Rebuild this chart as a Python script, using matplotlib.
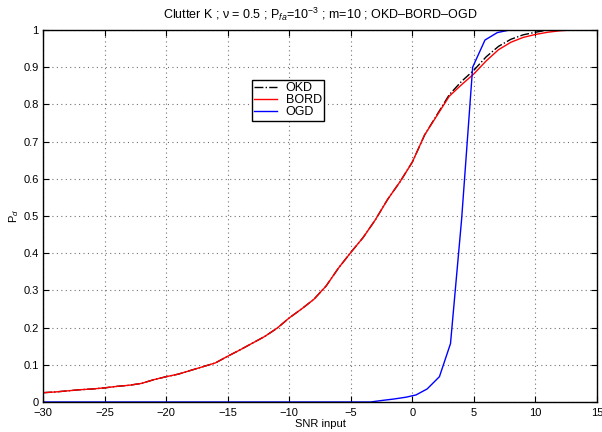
import matplotlib
matplotlib.use("Agg")
import matplotlib.pyplot as plt

plt.rcParams['font.family'] = ['Liberation Sans', 'DejaVu Sans']
plt.rcParams['mathtext.fontset'] = 'custom'
plt.rcParams['mathtext.rm'] = 'Liberation Sans'
plt.rcParams['mathtext.it'] = 'Liberation Sans:italic'

# SNR grid (dB) for OKD / BORD
snr = [-30, -29, -28, -27, -26, -25, -24, -23, -22, -21, -20, -19, -18, -17, -16,
       -15, -14, -13, -12, -11, -10, -9, -8, -7, -6, -5, -4, -3, -2, -1,
       0, 1, 2, 3, 4, 5, 6, 7, 8, 9, 10, 11, 12, 13, 14, 15]

pd_bord = [0.025, 0.027, 0.030, 0.033, 0.035, 0.038, 0.042, 0.045, 0.050, 0.060,
           0.068, 0.075, 0.085, 0.095, 0.105, 0.123, 0.140, 0.158, 0.176, 0.198,
           0.226, 0.250, 0.276, 0.312, 0.360, 0.402, 0.442, 0.490, 0.545, 0.592,
           0.645, 0.718, 0.770, 0.822, 0.853, 0.882, 0.917, 0.947, 0.967, 0.980,
           0.988, 0.994, 0.998, 1.0, 1.0, 1.0]

pd_okd = [0.025, 0.027, 0.030, 0.033, 0.035, 0.038, 0.042, 0.045, 0.050, 0.060,
          0.068, 0.075, 0.085, 0.095, 0.105, 0.123, 0.140, 0.158, 0.176, 0.198,
          0.226, 0.250, 0.276, 0.312, 0.360, 0.402, 0.442, 0.490, 0.545, 0.592,
          0.645, 0.718, 0.772, 0.826, 0.862, 0.892, 0.928, 0.956, 0.975, 0.987,
          0.994, 1.0, 1.0, 1.0, 1.0, 1.0]

# OGD is on its own SNR grid
snr_ogd = [-30, -3.4, -2.5, -1.5, -0.5, 0.3, 1.2, 2.2, 3.1, 4.0, 4.9, 5.9, 6.9, 7.9, 15]
pd_ogd = [0.0, 0.0, 0.004, 0.008, 0.013, 0.019, 0.035, 0.068, 0.157, 0.49, 0.90,
          0.973, 0.993, 1.0, 1.0]

fig = plt.figure(figsize=(6.02, 4.32), dpi=100)
ax = fig.add_axes([43 / 602, 30 / 432, 554 / 602, 372 / 432])

ax.plot(snr, pd_okd, '-.', color='black', lw=1.0, label='OKD')
ax.plot(snr, pd_bord, '-', color='red', lw=1.0, label='BORD')
ax.plot(snr_ogd, pd_ogd, '-', color='blue', lw=1.0, label='OGD')

ax.set_xlim(-30, 15)
ax.set_ylim(0, 1)
ax.set_xticks([-30, -25, -20, -15, -10, -5, 0, 5, 10, 15])
ax.set_yticks([0, 0.1, 0.2, 0.3, 0.4, 0.5, 0.6, 0.7, 0.8, 0.9, 1])
ax.set_yticklabels(['0', '0.1', '0.2', '0.3', '0.4', '0.5', '0.6', '0.7', '0.8', '0.9', '1'])
ax.set_xticklabels(['\u221230', '\u221225', '\u221220', '\u221215', '\u221210', '\u22125',
                    '0', '5', '10', '15'])
ax.tick_params(direction='in', top=True, right=True, length=4, width=0.8,
               labelsize=8, pad=3)
ax.tick_params(axis='x', pad=4)
ax.grid(True, linestyle=(0, (1, 3)), color='0.45', lw=0.8)
for s in ax.spines.values():
    s.set_linewidth(1.0)

ax.set_xlabel('SNR input', fontsize=8, labelpad=1)
ax.set_ylabel(r'P$_d$', fontsize=8, labelpad=2)
ax.set_title('Clutter K ; \u03bd = 0.5 ; P$_{fa}$=10$^{-3}$ ; m=10 ; OKD\u2013BORD\u2013OGD',
             fontsize=9, pad=8)

leg = ax.legend(loc='upper left', bbox_to_anchor=(0.377, 0.866), fontsize=9,
                fancybox=False, framealpha=1, edgecolor='black',
                handlelength=1.8, borderpad=0.2, labelspacing=0.0,
                handletextpad=0.7, borderaxespad=0)
leg.get_frame().set_linewidth(1.0)

fig.savefig('out.png', dpi=100)
